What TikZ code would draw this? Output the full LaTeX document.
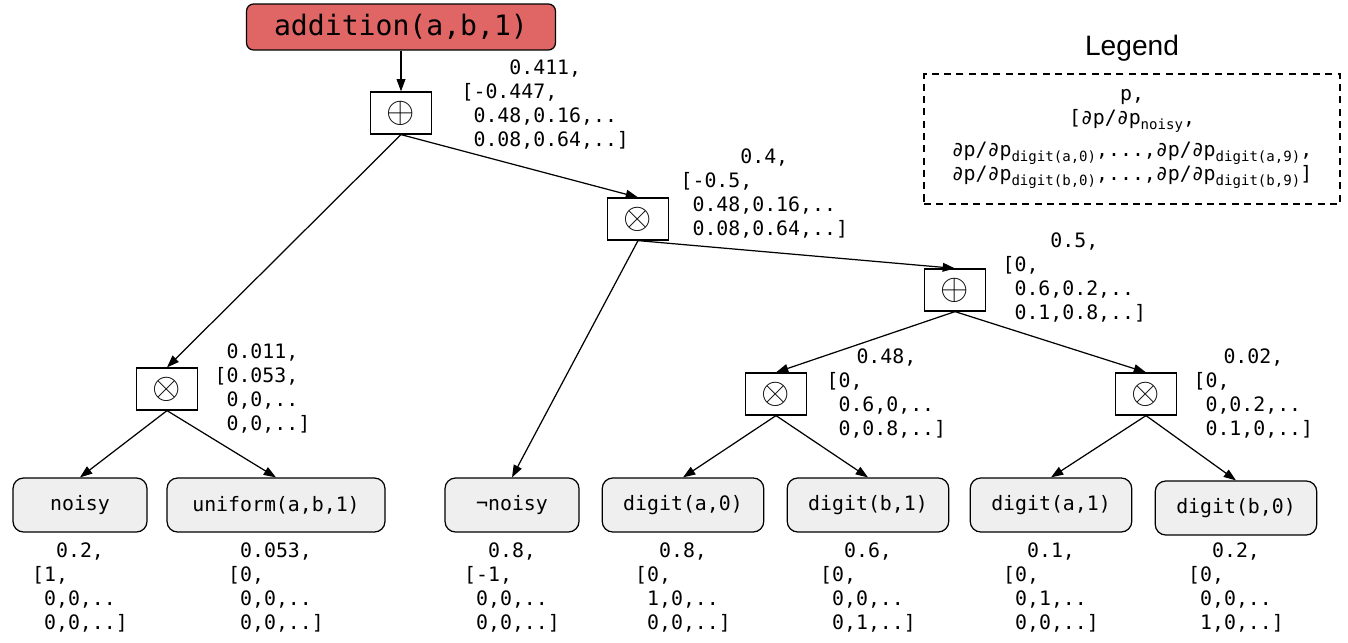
\documentclass[tikz,border=0pt]{standalone}
\usepackage{fontspec}
\setmonofont{DejaVu Sans Mono}
\newfontfamily\legendfont{Liberation Sans}
\usetikzlibrary{arrows.meta, positioning}
\definecolor{queryred}{HTML}{E06666}
\definecolor{leafgray}{HTML}{EFEFEF}
\newcommand{\gradvals}[4]{\begin{tabular}{@{}l@{}}\multicolumn{1}{@{}c@{}}{#1}\\\relax#2\\\relax\hphantom{0}#3\\\relax\hphantom{0}#4\end{tabular}}
\newcommand{\subtt}[1]{\raisebox{-0.45ex}{\fontsize{8}{8}\selectfont #1}}
\tikzset{
  query/.style={rectangle, rounded corners=4pt, minimum width=6.18cm, minimum height=0.92cm, text centered, draw=black, fill=queryred, font=\ttfamily\fontsize{16}{19}\selectfont},
  gate/.style={rectangle, minimum width=1.22cm, minimum height=0.84cm, text centered, draw=black, fill=white, font=\huge},
  leaf/.style={rectangle, rounded corners=6pt, minimum width=2.68cm, minimum height=1.08cm, inner xsep=0.42cm, text centered, draw=black, fill=leafgray, font=\ttfamily\fontsize{11.3}{13.66}\selectfont},
  vals/.style={inner sep=0pt, font=\ttfamily\fontsize{11.3}{13.66}\selectfont},
  legendbox/.style={rectangle, draw=black, dashed, dash pattern=on 4pt off 3pt, minimum width=8.32cm, minimum height=2.6cm, align=center, font=\ttfamily\fontsize{11.3}{13.66}\selectfont},
  arrow/.style={line width=0.7pt,->,>={Stealth[length=7pt,width=5pt,inset=0pt]}}
}
\begin{document}
\begin{tikzpicture}[x=0.02cm, y=-0.02cm, line width=0.7pt]
\useasboundingbox (0,0) rectangle (1348,642);
% query and gates
\node[query] (query) at (401,27) {addition(a,b,1)};
\node[gate] (p1) at (401,113) {$\oplus$};
\node[gate] (m2) at (638,219) {$\otimes$};
\node[gate] (p3) at (955,290) {$\oplus$};
\node[gate] (m4) at (167,389) {$\otimes$};
\node[gate] (m5) at (776,394) {$\otimes$};
\node[gate] (m6) at (1146,394) {$\otimes$};

% leaves
\node[leaf] (noisy) at (80,505) {noisy};
\node[leaf, minimum width=4.36cm] (unif) at (276,505) {uniform(a,b,1)};
\node[leaf] (nnoisy) at (512,505) {¬noisy};
\node[leaf] (da0) at (683,505) {digit(a,0)};
\node[leaf] (db1) at (868,505) {digit(b,1)};
\node[leaf] (da1) at (1051,505) {digit(a,1)};
\node[leaf] (db0) at (1236,508) {digit(b,0)};

\draw[arrow] (query) -- (p1);
\draw[arrow] (p1.south) -- (m4.north);
\draw[arrow] (p1.south) -- (m2.north);
\draw[arrow] (m2.south) -- (nnoisy.north);
\draw[arrow] (m2.south) -- (p3.north);
\draw[arrow] (p3.south) -- (m5.north);
\draw[arrow] (p3.south) -- (m6.north);
\draw[arrow] (m4.south) -- (noisy.north);
\draw[arrow] (m4.south) -- (unif.north);
\draw[arrow] (m5.south) -- (da0.north);
\draw[arrow] (m5.south) -- (db1.north);
\draw[arrow] (m6.south) -- (da1.north);
\draw[arrow] (m6.south) -- (db0.north);

% values at the gates
\node[vals, anchor=west] (vp1) at (461,106) {\gradvals{0.411,}{[-0.447,}{0.48,0.16,..}{0.08,0.64,..]}};
\node[vals, anchor=west] (vm2) at (680,195) {\gradvals{0.4,}{[-0.5,}{0.48,0.16,..}{0.08,0.64,..]}};
\node[vals, anchor=west] (vp3) at (1002,279) {\gradvals{0.5,}{[0,}{0.6,0.2,..}{0.1,0.8,..]}};
\node[vals, anchor=west] (vm4) at (214,390) {\gradvals{0.011,}{[0.053,}{0,0,..}{0,0,..]}};
\node[vals, anchor=west] (vm5) at (826,395) {\gradvals{0.48,}{[0,}{0.6,0,..}{0,0.8,..]}};
\node[vals, anchor=west] (vm6) at (1193,395) {\gradvals{0.02,}{[0,}{0,0.2,..}{0.1,0,..]}};

% values at the leaves
\node[vals, below=0.15cm of noisy] (vnoisy) {\gradvals{0.2,}{[1,}{0,0,..}{0,0,..]}};
\node[vals, below=0.15cm of unif] (vunif) {\gradvals{0.053,}{[0,}{0,0,..}{0,0,..]}};
\node[vals, below=0.15cm of nnoisy] (vnnoisy) {\gradvals{0.8,}{[-1,}{0,0,..}{0,0,..]}};
\node[vals, below=0.15cm of da0] (vda0) {\gradvals{0.8,}{[0,}{1,0,..}{0,0,..]}};
\node[vals, below=0.15cm of db1] (vdb1) {\gradvals{0.6,}{[0,}{0,0,..}{0,1,..]}};
\node[vals, below=0.15cm of da1] (vda1) {\gradvals{0.1,}{[0,}{0,1,..}{0,0,..]}};
\node[vals, below=0.08cm of db0] (vdb0) {\gradvals{0.2,}{[0,}{0,0,..}{1,0,..]}};

% legend
\node[legendbox] (legend) at (1132,139) {p,\\\relax[∂p/∂p\subtt{noisy},\\[5pt]∂p/∂p\subtt{digit(a,0)},...,∂p/∂p\subtt{digit(a,9)},\\∂p/∂p\subtt{digit(b,0)},...,∂p/∂p\subtt{digit(b,9)}]};
\node[above=0.12cm of legend, font=\legendfont\fontsize{16}{19}\selectfont] (legendtitle) {Legend};
\end{tikzpicture}
\end{document}
